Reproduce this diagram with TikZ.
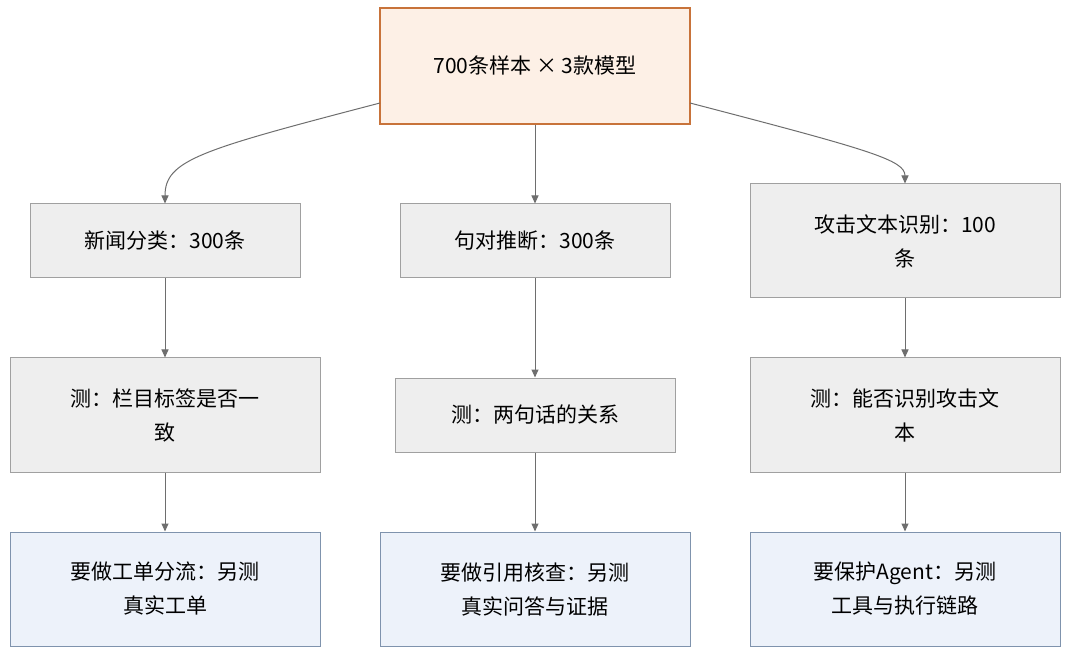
\documentclass[tikz,border=0pt]{standalone}
\usepackage{fontspec}
\setmainfont{Liberation Serif}
\newfontfamily\cjk{Noto Sans CJK SC}
\usetikzlibrary{arrows.meta}
\begin{document}
\begin{tikzpicture}[x=1pt,y=-1pt,
  box/.style={draw,line width=1pt,align=center,font=\cjk\fontsize{21}{34}\selectfont,inner sep=0pt},
  top/.style={box,fill={rgb,255:red,253;green,240;blue,230},draw={rgb,255:red,200;green,115;blue,58},line width=1.4pt},
  mid/.style={box,fill={rgb,255:red,238;green,238;blue,238},draw={rgb,255:red,160;green,160;blue,160}},
  bot/.style={box,fill={rgb,255:red,237;green,242;blue,250},draw={rgb,255:red,127;green,147;blue,173}},
  arr/.style={draw={rgb,255:red,110;green,110;blue,110},line width=1pt,-{Triangle[length=8pt,width=7pt]}}]
\useasboundingbox (0,0) rectangle (1080,663);
\node[top,minimum width=310pt,minimum height=116pt] (t) at (535,66) {700条样本 × 3款模型};
\node[mid,minimum width=270pt,minimum height=74pt] (a1) at (165,241) {新闻分类：300条};
\node[mid,minimum width=270pt,minimum height=74pt] (b1) at (535,241) {句对推断：300条};
\node[mid,minimum width=310pt,minimum height=114pt] (c1) at (905,241) {攻击文本识别：100\\条};
\node[mid,minimum width=310pt,minimum height=114pt] (a2) at (165,415) {测：栏目标签是否一\\致};
\node[mid,minimum width=280pt,minimum height=74pt] (b2) at (535,415) {测：两句话的关系};
\node[mid,minimum width=310pt,minimum height=114pt] (c2) at (905,415) {测：能否识别攻击文\\本};
\node[bot,minimum width=310pt,minimum height=114pt] (a3) at (165,589) {要做工单分流：另测\\真实工单};
\node[bot,minimum width=310pt,minimum height=114pt] (b3) at (535,589) {要做引用核查：另测\\真实问答与证据};
\node[bot,minimum width=310pt,minimum height=114pt] (c3) at (905,589) {要保护Agent：另测\\工具与执行链路};
\coordinate (tl) at (380,103);
\coordinate (tr) at (690,103);
\draw[arr] (tl) .. controls (200,150) and (165,160) .. (a1.north);
\draw[arr] (tr) .. controls (870,150) and (905,160) .. (c1.north);
\draw[arr] (t) -- (b1);
\foreach \u/\v in {a1/a2,a2/a3,b1/b2,b2/b3,c1/c2,c2/c3} \draw[arr] (\u) -- (\v);
\end{tikzpicture}
\end{document}
